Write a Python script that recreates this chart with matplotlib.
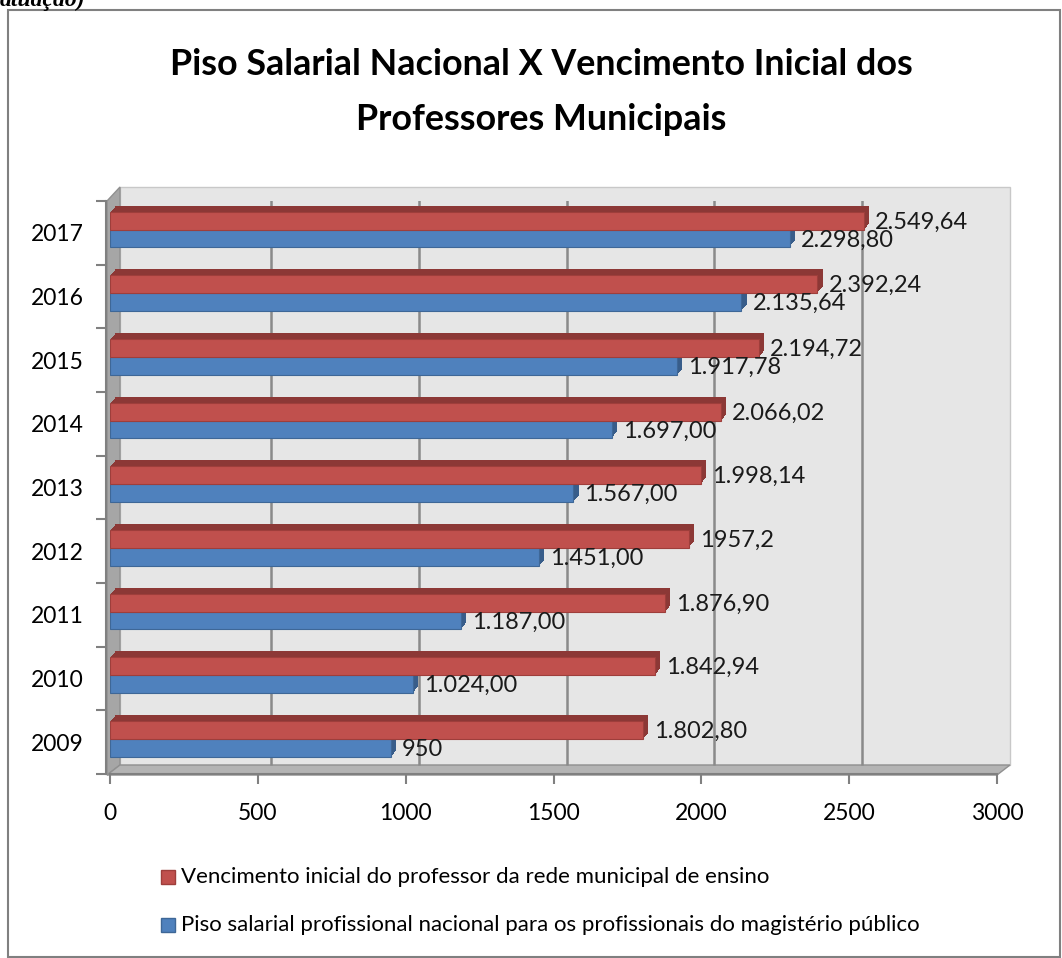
import matplotlib
matplotlib.use("Agg")
import matplotlib.pyplot as plt
import matplotlib.transforms as mtransforms
from matplotlib.patches import Polygon, Rectangle

years = ["2009", "2010", "2011", "2012", "2013", "2014", "2015", "2016", "2017"]
vencimento = [1802.80, 1842.94, 1876.90, 1957.2, 1998.14, 2066.02, 2194.72, 2392.24, 2549.64]
piso = [950, 1024.00, 1187.00, 1451.00, 1567.00, 1697.00, 1917.78, 2135.64, 2298.80]
vencimento_labels = ["1.802,80", "1.842,94", "1.876,90", "1957,2", "1.998,14", "2.066,02", "2.194,72", "2.392,24", "2.549,64"]
piso_labels = ["950", "1.024,00", "1.187,00", "1.451,00", "1.567,00", "1.697,00", "1.917,78", "2.135,64", "2.298,80"]
xticks = [0, 500, 1000, 1500, 2000, 2500, 3000]
series_names = ["Vencimento inicial do professor da rede municipal de ensino",
                "Piso salarial profissional nacional para os profissionais do magistério público"]
title = "Piso Salarial Nacional X Vencimento Inicial dos\nProfessores Municipais"

W, H = 1062, 958
FONT = ["Lato", "DejaVu Sans"]
RED, RED_D = "#C0504D", "#8C3836"
BLUE, BLUE_D = "#4F81BD", "#385D8A"

fig = plt.figure(figsize=(W / 100, H / 100), dpi=100)


def P(x, y):
    return (x / W, 1 - y / H)


# outer border
fig.patches.append(Rectangle(P(8, 957), (1060 - 8) / W, (957 - 10) / H, transform=fig.transFigure,
                             fill=False, edgecolor="#808080", linewidth=1.5, zorder=0))
# clipped caption at very top
fig.text(0.0, 1.0, "atuação)", fontsize=17, style="italic", fontweight="bold",
         family=["Liberation Serif", "DejaVu Serif"], ha="left", va="center", color="black")

# back wall, left wall, floor
fig.patches.append(Polygon([P(120, 187), P(1010, 187), P(1010, 765), P(120, 765)], closed=True,
                           transform=fig.transFigure, facecolor="#E6E6E6", edgecolor="#C8C8C8", lw=1, zorder=0))
fig.patches.append(Polygon([P(107, 201), P(120, 187), P(120, 765), P(107, 775)], closed=True,
                           transform=fig.transFigure, facecolor="#A6A6A6", edgecolor="#909090", lw=1, zorder=0))
fig.patches.append(Polygon([P(107, 775), P(997, 775), P(1010, 765), P(120, 765)], closed=True,
                           transform=fig.transFigure, facecolor="#B4B4B4", edgecolor="#909090", lw=1, zorder=0))

ax = fig.add_axes([110 / W, 1 - 774 / H, (997 - 110) / W, (774 - 201) / H], zorder=2)
ax.patch.set_visible(False)
ax.set_xlim(0, 3000)
ax.set_ylim(-0.5, 8.5)

# gridlines on back wall
grid_tr = mtransforms.offset_copy(ax.get_xaxis_transform(), fig=fig, x=13, y=9, units="dots")
ax.vlines(xticks[1:], 0, 1.02, transform=grid_tr, colors="#8A8A8A", linewidth=1.8, zorder=1)

ypos = list(range(len(years)))
red_y = [y + 0.19 for y in ypos]
blue_y = [y - 0.09 for y in ypos]
hgt = 0.28

# extruded depth (pseudo 3-D) drawn as stacked offset copies
for k in range(1, 7):
    tr = mtransforms.offset_copy(ax.transData, fig=fig, x=k * 0.9, y=k, units="dots")
    ax.barh(blue_y, piso, height=hgt, color=BLUE_D, transform=tr, zorder=2)
for k in range(1, 7):
    tr = mtransforms.offset_copy(ax.transData, fig=fig, x=k * 0.9, y=k, units="dots")
    ax.barh(red_y, vencimento, height=hgt, color=RED_D, transform=tr, zorder=3)
ax.barh(blue_y, piso, height=hgt, color=BLUE, edgecolor="#3E6797", linewidth=0.8, zorder=4)
ax.barh(red_y, vencimento, height=hgt, color=RED, edgecolor="#9E3E3B", linewidth=0.8, zorder=5)

for v, y, s in zip(vencimento, red_y, vencimento_labels):
    ax.annotate(s, (v, y), xytext=(8, -1), textcoords="offset points", ha="left", va="center",
                fontsize=17, family=FONT, color="#1a1a1a", zorder=6)
for v, y, s in zip(piso, blue_y, piso_labels):
    ax.annotate(s, (v, y), xytext=(8, -1), textcoords="offset points", ha="left", va="center",
                fontsize=17, family=FONT, color="#1a1a1a", zorder=6)

# axes styling
for side in ["top", "right"]:
    ax.spines[side].set_visible(False)
ax.spines["left"].set_color("#808080")
ax.spines["bottom"].set_color("#808080")
ax.spines["left"].set_linewidth(1.5)
ax.spines["bottom"].set_linewidth(1.5)
ax.spines["left"].set_position(("outward", 3))
ax.set_xticks(xticks)
ax.set_xticklabels([str(t) for t in xticks], fontsize=16.5, family=FONT)
ax.set_yticks(ypos)
ax.set_yticklabels(years, fontsize=16.5, family=FONT)
ax.set_yticks([y - 0.5 for y in ypos] + [8.5], minor=True)
ax.tick_params(axis="y", which="major", length=0, pad=16)
ax.tick_params(axis="y", which="minor", length=7, width=1.5, color="#808080")
ax.tick_params(axis="x", which="major", length=7, width=1.5, color="#808080", pad=14)

fig.text(P(541, 0)[0], P(0, 92)[1], title, ha="center", va="center", fontsize=25.8, fontweight="bold",
         family=FONT, linespacing=1.8)

# legend
for i, (name, col, ec) in enumerate(zip(series_names, [RED, BLUE], ["#9E3E3B", "#3E6797"])):
    yy = 877 + i * 48
    fig.patches.append(Rectangle(P(161, yy + 7), 14 / W, 14 / H, transform=fig.transFigure,
                                 facecolor=col, edgecolor=ec, lw=1))
    fig.text(P(181, 0)[0], P(0, yy)[1], name, ha="left", va="center", fontsize=16, family=FONT)

fig.savefig("out.png", dpi=100)
